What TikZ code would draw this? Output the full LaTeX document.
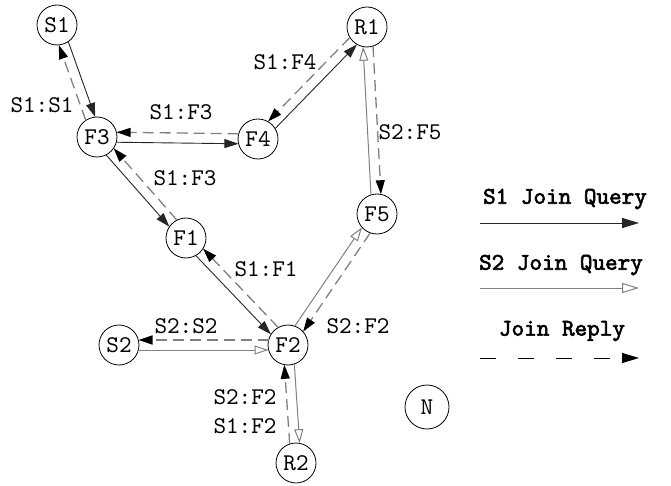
\documentclass[tikz,border=0pt]{standalone}
\usepackage{fontspec}
\newfontfamily\monofont{lmmono10-regular.otf}
\newfontfamily\monobold{lmmono10-regular.otf}[FakeBold=2.5]
\usetikzlibrary{arrows.meta,calc}

% solid query arrow A->B on one side, dashed reply B->A on the other
\newcommand\duplex[4]{%
  \draw[#3,shorten <=19.5pt,shorten >=19.5pt]
    ($(#1)!5pt!#4:(#2)$) -- ($(#2)!-5pt!#4:(#1)$);
  \draw[reply,shorten <=19.5pt,shorten >=19.5pt]
    ($(#2)!5pt!#4:(#1)$) -- ($(#1)!-5pt!#4:(#2)$);
}

\begin{document}
\begin{tikzpicture}[x=1pt,y=-1pt,
  every node/.style={font=\monofont\fontsize{24}{26}\selectfont},
  station/.style={circle,draw,line width=0.8pt,minimum size=40pt,inner sep=0pt},
  qone/.style={draw=black!85,line width=0.9pt,-{Triangle[length=14pt,width=9pt]}},
  qtwo/.style={draw=black!50,line width=1pt,-{Triangle[open,fill=white,length=14pt,width=9pt]}},
  reply/.style={draw=black!50,line width=1.3pt,dash pattern=on 11pt off 6pt,
    -{Triangle[length=14pt,width=9pt,color=black]}},
  lbl/.style={inner sep=0pt},
  legend/.style={font=\monobold\fontsize{24}{26}\selectfont,inner sep=0pt},
]
\useasboundingbox (0,0) rectangle (671,486);

% stations
\node[station] (S1) at (57,25)   {S1};
\node[station] (R1) at (367,27)  {R1};
\node[station] (F3) at (97,137)  {F3};
\node[station] (F4) at (258,139) {F4};
\node[station] (F1) at (186,238) {F1};
\node[station] (F5) at (377,214) {F5};
\node[station] (S2) at (119,345) {S2};
\node[station] (F2) at (288,345) {F2};
\node[station] (R2) at (296,463) {R2};
\node[station,minimum size=44pt] (N) at (427,407) {N};

% S1 join path
\duplex{S1}{F3}{qone}{90}
\duplex{F3}{F4}{qone}{-90}
\duplex{F4}{R1}{qone}{-90}
\duplex{F3}{F1}{qone}{-90}
\duplex{F1}{F2}{qone}{-90}

% S2 join path
\duplex{F5}{R1}{qtwo}{90}
\duplex{F2}{F5}{qtwo}{90}
\duplex{S2}{F2}{qtwo}{-90}
\duplex{F2}{R2}{qtwo}{90}

% reply labels
\node[lbl] (l1) at (42,105)  {S1:S1};
\node[lbl] (l2) at (181,112) {S1:F3};
\node[lbl] (l3) at (185,178) {S1:F3};
\node[lbl] (l4) at (285,62)  {S1:F4};
\node[lbl] (l5) at (410,132) {S2:F5};
\node[lbl] (l6) at (266,269) {S1:F1};
\node[lbl] (l7) at (186,326) {S2:S2};
\node[lbl] (l8) at (358,326) {S2:F2};
\node[lbl] (l9) at (245,397) {S2:F2};
\node[lbl] (l10) at (245,426) {S1:F2};

% legend
\node[legend] (k1) at (565,199) {S1 Join Query};
\coordinate (k1a) at (480,223);
\coordinate (k1b) at (639,223);
\draw[qone,-{Triangle[length=17pt,width=10pt]}] (k1a) -- (k1b);

\node[legend] (k2) at (561,265) {S2 Join Query};
\coordinate (k2a) at (480,288);
\coordinate (k2b) at (639,288);
\draw[qtwo,-{Triangle[open,fill=white,length=17pt,width=10pt]}] (k2a) -- (k2b);

\node[legend] (k3) at (562,331) {Join Reply};
\coordinate (k3a) at (480,358);
\coordinate (k3b) at (639,358);
\draw[black,line width=1pt,dash pattern=on 16pt off 22pt,
  -{Triangle[length=17pt,width=10pt]}] (k3a) -- (k3b);
\end{tikzpicture}
\end{document}
